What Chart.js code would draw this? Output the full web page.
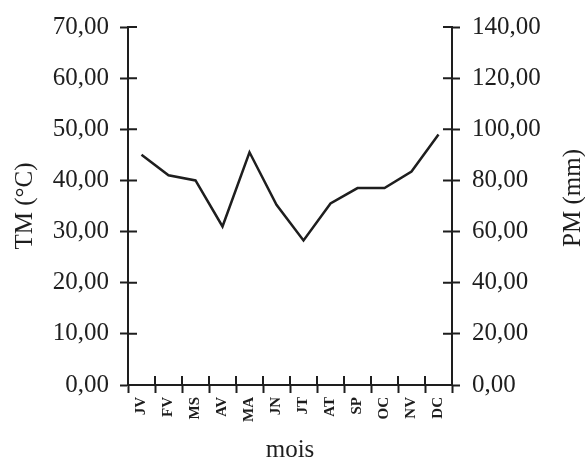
<!DOCTYPE html>
<html lang="fr">
<head>
    <meta charset="UTF-8">
    <title>TM et PM par mois</title>
    <script src="https://cdn.jsdelivr.net/npm/chart.js"></script>
    <style>
        body { margin: 0; background: #fff; }
        #box { width: 585px; height: 459px; }
    </style>
</head>
<body>
    <div id="box"><canvas id="climatChart"></canvas></div>

    <script>
        // Données mensuelles
        const mois = ['JV', 'FV', 'MS', 'AV', 'MA', 'JN', 'JT', 'AT', 'SP', 'OC', 'NV', 'DC'];
        const pm = [90, 82, 80, 62, 91, 70.5, 56.5, 71, 77, 77, 83.5, 98];   // précipitations (mm)
        const tmBornes = [0, 70, 10];    // min, max, pas (°C)
        const pmBornes = [0, 140, 20];   // min, max, pas (mm)
        const titreX = 'mois';
        const titreTM = 'TM (°C)';
        const titrePM = 'PM (mm)';

        const encre = '#1e1e1e';
        const police = 'Liberation Serif, Times New Roman, serif';

        // virgule décimale
        function fmt(v) {
            return Number(v).toFixed(2).replace('.', ',');
        }

        // petits traits côté intérieur des axes + titre de droite lu de bas en haut
        const axesPlugin = {
            id: 'axesPlugin',
            afterDraw(chart) {
                const ctx = chart.ctx;
                const yL = chart.scales.yTM, yR = chart.scales.yPM, x = chart.scales.x;
                const L = 9;
                ctx.save();
                ctx.strokeStyle = encre;
                ctx.lineWidth = 2;
                ctx.beginPath();
                yL.ticks.forEach(t => {
                    const py = yL.getPixelForValue(t.value);
                    ctx.moveTo(yL.right, py); ctx.lineTo(yL.right + L, py);
                });
                yR.ticks.forEach(t => {
                    const py = yR.getPixelForValue(t.value);
                    ctx.moveTo(yR.left, py); ctx.lineTo(yR.left - L, py);
                });
                for (let i = 0; i <= mois.length; i++) {
                    const px = x.getPixelForValue(i - 0.5);
                    ctx.moveTo(px, x.top); ctx.lineTo(px, x.top - L);
                }
                ctx.stroke();

                ctx.fillStyle = encre;
                ctx.font = '25px ' + police;
                ctx.textAlign = 'center';
                ctx.textBaseline = 'middle';
                ctx.translate(yR.right - 12, (yR.top + yR.bottom) / 2 - 8);
                ctx.rotate(-Math.PI / 2);
                ctx.fillText(titrePM, 0, 0);
                ctx.restore();
            }
        };

        const ctx = document.getElementById('climatChart').getContext('2d');
        new Chart(ctx, {
            type: 'line',
            data: {
                labels: mois,
                datasets: [{
                    label: 'PM',
                    data: pm,
                    yAxisID: 'yPM',
                    borderColor: encre,
                    borderWidth: 2.5,
                    pointRadius: 0,
                    tension: 0,
                    fill: false
                }]
            },
            options: {
                responsive: true,
                maintainAspectRatio: false,
                animation: false,
                layout: { padding: { top: 25, left: 0, right: 0, bottom: 0 } },
                plugins: {
                    legend: { display: false },
                    tooltip: { enabled: false }
                },
                scales: {
                    x: {
                        type: 'category',
                        offset: true,
                        afterFit(s) { s.height = 74; },
                        border: { display: true, color: encre, width: 2 },
                        grid: {
                            offset: true,
                            drawOnChartArea: false,
                            drawTicks: true,
                            tickLength: 8,
                            tickColor: encre,
                            tickWidth: 2
                        },
                        ticks: {
                            color: encre,
                            font: { family: police, size: 15, weight: 'bold' },
                            minRotation: 90,
                            maxRotation: 90,
                            padding: 4,
                            autoSkip: false
                        },
                        title: {
                            display: true,
                            text: titreX,
                            color: encre,
                            font: { family: police, size: 25, lineHeight: 0.7 },
                            padding: 0
                        }
                    },
                    yTM: {
                        type: 'linear',
                        position: 'left',
                        min: tmBornes[0],
                        max: tmBornes[1],
                        afterFit(s) { s.width = 128; },
                        border: { display: true, color: encre, width: 2 },
                        grid: {
                            drawOnChartArea: false,
                            drawTicks: true,
                            tickLength: 8,
                            tickColor: encre,
                            tickWidth: 2
                        },
                        ticks: {
                            stepSize: tmBornes[2],
                            color: encre,
                            font: { family: police, size: 25 },
                            padding: 11,
                            callback: v => fmt(v)
                        },
                        title: {
                            display: true,
                            text: titreTM,
                            color: encre,
                            font: { family: police, size: 25, lineHeight: 1.2 },
                            padding: { top: 10, bottom: 0 }
                        }
                    },
                    yPM: {
                        type: 'linear',
                        position: 'right',
                        min: pmBornes[0],
                        max: pmBornes[1],
                        afterFit(s) { s.width = 133; },
                        border: { display: true, color: encre, width: 2 },
                        grid: {
                            drawOnChartArea: false,
                            drawTicks: true,
                            tickLength: 8,
                            tickColor: encre,
                            tickWidth: 2
                        },
                        ticks: {
                            stepSize: pmBornes[2],
                            color: encre,
                            font: { family: police, size: 25 },
                            padding: 12,
                            callback: v => fmt(v)
                        }
                    }
                }
            },
            plugins: [axesPlugin]
        });
    </script>
</body>
</html>
